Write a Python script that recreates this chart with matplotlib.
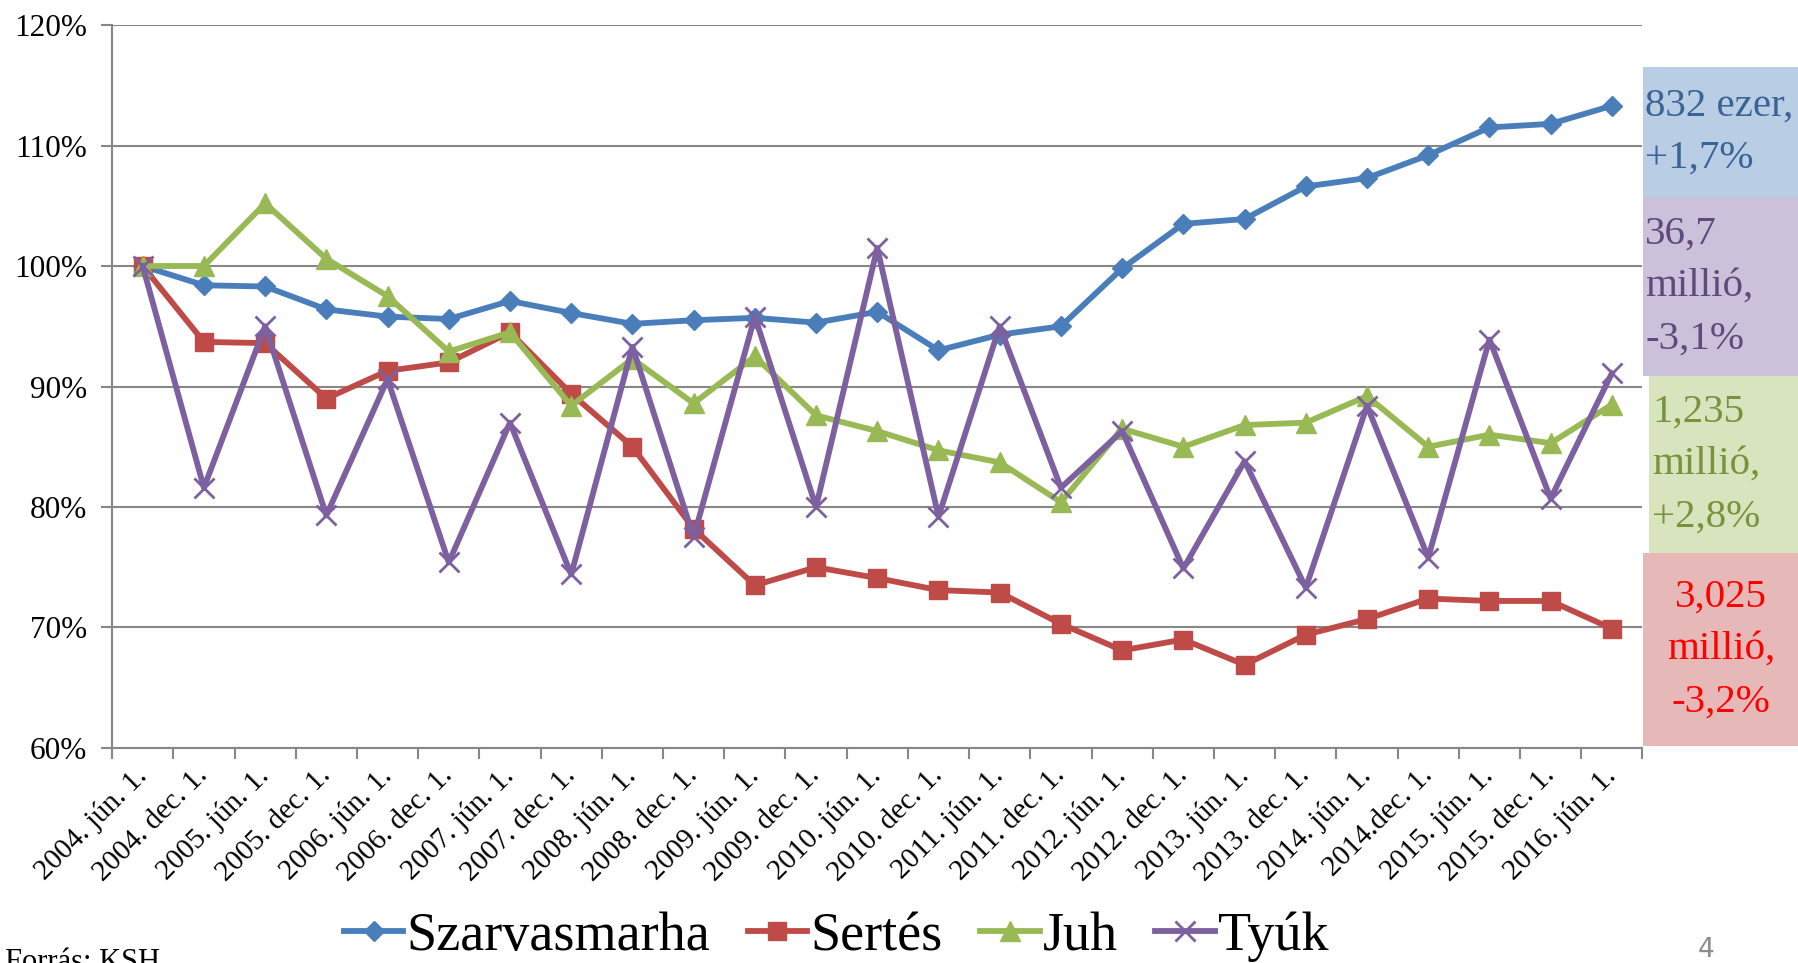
import numpy as np
import matplotlib
matplotlib.use("Agg")
import matplotlib.pyplot as plt
from matplotlib.patches import Rectangle

dates = ["2004. jún. 1.", "2004. dec. 1.", "2005. jún. 1.", "2005. dec. 1.",
         "2006. jún. 1.", "2006. dec. 1.", "2007. jún. 1.", "2007. dec. 1.",
         "2008. jún. 1.", "2008. dec. 1.", "2009. jún. 1.", "2009. dec. 1.",
         "2010. jún. 1.", "2010. dec. 1.", "2011. jún. 1.", "2011. dec. 1.",
         "2012. jún. 1.", "2012. dec. 1.", "2013. jún. 1.", "2013. dec. 1.",
         "2014. jún. 1.", "2014.dec. 1.", "2015. jún. 1.", "2015. dec. 1.",
         "2016. jún. 1."]

# index, 2004. jún. 1. = 100%
szarvasmarha = [100, 98.4, 98.3, 96.4, 95.8, 95.6, 97.1, 96.1, 95.2, 95.5,
                95.7, 95.3, 96.2, 93.0, 94.3, 95.0, 99.8, 103.5, 103.9, 106.6,
                107.3, 109.2, 111.5, 111.8, 113.3]
sertes = [100, 93.7, 93.6, 89.0, 91.3, 92.0, 94.5, 89.4, 85.0, 78.2,
          73.5, 75.0, 74.1, 73.1, 72.9, 70.3, 68.1, 69.0, 66.9, 69.4,
          70.7, 72.4, 72.2, 72.2, 69.9]
juh = [100, 100, 105.2, 100.6, 97.5, 92.9, 94.5, 88.4, 92.3, 88.6,
       92.5, 87.6, 86.3, 84.7, 83.7, 80.4, 86.5, 85.0, 86.8, 87.0,
       89.2, 85.0, 86.0, 85.3, 88.5]
tyuk = [100, 81.6, 95.0, 79.3, 90.6, 75.4, 87.0, 74.4, 93.3, 77.5,
        95.8, 80.0, 101.5, 79.2, 95.0, 81.6, 86.3, 74.9, 83.8, 73.3,
        88.4, 75.8, 93.9, 80.7, 91.1]

box_texts = ["832 ezer,\n+1,7%", "36,7\nmillió,\n-3,1%",
             "1,235\nmillió,\n+2,8%", "3,025\nmillió,\n-3,2%"]

plt.rcParams['font.family'] = ['Liberation Serif', 'DejaVu Serif']

fig = plt.figure(figsize=(17.99, 9.63), dpi=100)
ax = fig.add_axes([0.0623, 0.2233, 0.8507, 0.7507])

x = np.arange(len(dates))
ax.plot(x, szarvasmarha, color='#4A7EBB', lw=4.2, marker='D', ms=10.5, label='Szarvasmarha')
ax.plot(x, sertes, color='#BE4B48', lw=4.2, marker='s', ms=13, label='Sertés')
ax.plot(x, juh, color='#98B954', lw=4.2, marker='^', ms=14, label='Juh')
ax.plot(x, tyuk, color='#7D60A0', lw=4.2, marker='x', ms=14, mew=2, label='Tyúk')

ax.set_xlim(-0.5, len(dates) - 0.5)
ax.set_ylim(60, 120)
yt = list(range(60, 121, 10))
ax.set_yticks(yt)
ax.set_yticklabels([str(v) + "%" for v in yt], fontsize=22.5)
ax.yaxis.grid(True, color='#878787', lw=1.5)
ax.set_axisbelow(True)

ax.set_xticks(np.arange(-0.5, len(dates), 1))
ax.set_xticklabels([])
ax.set_xticks(x, minor=True)
ax.set_xticklabels(dates, minor=True, rotation=45, ha='right', va='center',
                   rotation_mode='anchor', fontsize=21)
ax.tick_params(axis='x', which='minor', length=0, pad=17)
ax.tick_params(axis='x', which='major', length=8, width=1.5, color='#878787')
ax.tick_params(axis='y', length=8, width=1.5, color='#878787', pad=10)

for s in ['top', 'right']:
    ax.spines[s].set_visible(False)
for s in ['left', 'bottom']:
    ax.spines[s].set_color('#878787')
    ax.spines[s].set_linewidth(1.5)

fig.legend(loc='center', bbox_to_anchor=(0.4647, 0.027), ncol=4, frameon=False,
           fontsize=39, handlelength=1.1, handletextpad=0.05, columnspacing=0.7)

# jobb oldali dobozok
boxes = [(0.9133, 0.7954, 0.0867, 0.1350, '#B9CDE5', '#3A6496', 'left', 0.9144),
         (0.9133, 0.6096, 0.0867, 0.1859, '#CCC1DA', '#604A7B', 'left', 0.9144),
         (0.9166, 0.4258, 0.0834, 0.1838, '#D7E4BD', '#77933C', 'left', 0.9183),
         (0.9133, 0.2253, 0.0867, 0.2004, '#E6B9B8', '#FF0000', 'center', 0.9566)]
for (bx, by, bw, bh, fc, tc, ha, tx), txt in zip(boxes, box_texts):
    fig.add_artist(Rectangle((bx, by), bw, bh, transform=fig.transFigure,
                             facecolor=fc, edgecolor='none'))
    fig.text(tx, by + bh / 2, txt, color=tc, fontsize=29.5, ha=ha, va='center',
             linespacing=1.55)

fig.text(0.003, 1 - 948 / 963, "Forrás: KSH", fontsize=22, va='top', ha='left')
fig.text(1706 / 1799, 1 - 950 / 963, "4", fontsize=19, color='#8C8C8C',
         family='DejaVu Sans', ha='center', va='center')

fig.savefig("out.png", dpi=100)
